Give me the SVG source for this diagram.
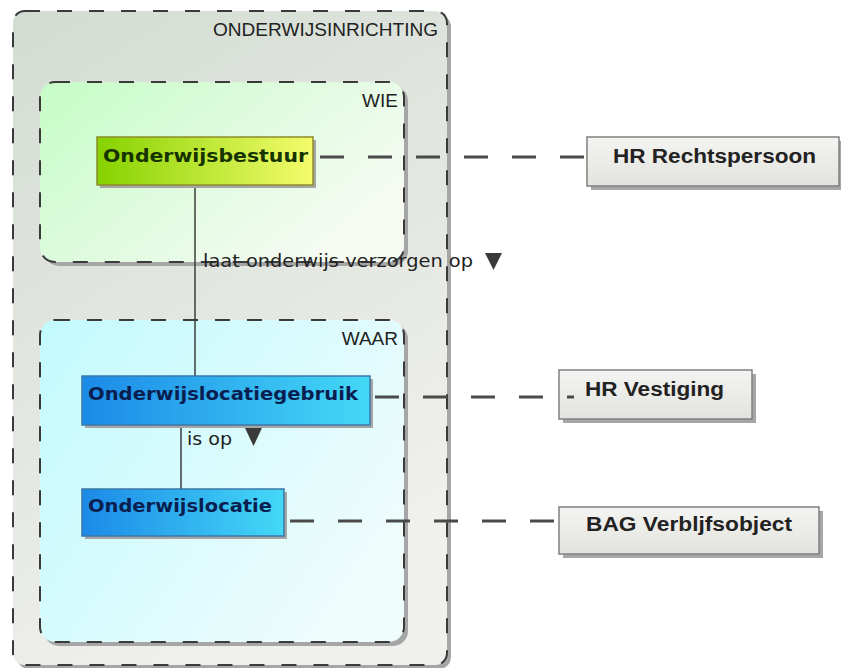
<svg xmlns="http://www.w3.org/2000/svg" width="841" height="668" viewBox="0 0 841 668">
  <defs>
    <linearGradient id="gOuter" x1="0" y1="0" x2="0.4" y2="1">
      <stop offset="0" stop-color="#d3dcd3"/>
      <stop offset="1" stop-color="#f0f0ec"/>
    </linearGradient>
    <linearGradient id="gWie" x1="0" y1="0" x2="1" y2="0.6">
      <stop offset="0" stop-color="#c6fcc6"/>
      <stop offset="1" stop-color="#f6fbf4"/>
    </linearGradient>
    <linearGradient id="gWaar" x1="0" y1="0" x2="1" y2="0.6">
      <stop offset="0" stop-color="#c2fafe"/>
      <stop offset="1" stop-color="#eefcfc"/>
    </linearGradient>
    <linearGradient id="gYellow" x1="0" y1="0" x2="1" y2="0">
      <stop offset="0" stop-color="#86d200"/>
      <stop offset="1" stop-color="#f4fc6c"/>
    </linearGradient>
    <linearGradient id="gBlue" x1="0" y1="0" x2="1" y2="0">
      <stop offset="0" stop-color="#1c8ae8"/>
      <stop offset="1" stop-color="#44d8f6"/>
    </linearGradient>
    <linearGradient id="gGrey" x1="0" y1="0" x2="0" y2="1">
      <stop offset="0" stop-color="#f4f4f2"/>
      <stop offset="1" stop-color="#e2e2de"/>
    </linearGradient>
    <style>
      .cont { stroke: #3a3a3a; stroke-width: 2; stroke-dasharray: 15 17; }
      .shadow { fill: #a6a6a6; }
      .ctitle { font-family: "Liberation Sans", Arial, sans-serif; font-size: 19px; fill: #222; text-anchor: end; }
      .assoc { fill: none; stroke: #3c3c3c; stroke-width: 1.5; }
      .trace { fill: none; stroke: #4a4a4a; stroke-width: 3; stroke-dasharray: 24 24; }
      .lbl { font-family: "DejaVu Sans", Verdana, sans-serif; font-size: 18px; fill: #222; }
      .tri { fill: #3a3a3a; }
      .nlbl { font-family: "DejaVu Sans", Verdana, sans-serif; font-size: 18px; font-weight: bold; }
      .xlbl { font-family: "Liberation Sans", Arial, sans-serif; font-size: 20px; font-weight: bold; fill: #222; }
    </style>
  </defs>

  <rect x="0" y="0" width="841" height="668" fill="#ffffff"/>

  <g id="ONDERWIJSINRICHTING">
    <rect class="shadow" x="17" y="15" width="434" height="654" rx="12"/>
    <rect class="cont" x="13" y="11" width="434" height="654" rx="12" fill="url(#gOuter)"/>
    <text class="ctitle" x="438" y="36" textLength="225" lengthAdjust="spacingAndGlyphs">ONDERWIJSINRICHTING</text>
  </g>

  <g id="WIE">
    <rect class="shadow" x="44" y="86" width="364" height="180" rx="15"/>
    <rect class="cont" x="40" y="82" width="364" height="180" rx="15" fill="url(#gWie)"/>
    <text class="ctitle" x="398" y="107">WIE</text>
  </g>

  <g id="WAAR">
    <rect class="shadow" x="44" y="324" width="364" height="322" rx="15"/>
    <rect class="cont" x="40" y="320" width="364" height="322" rx="15" fill="url(#gWaar)"/>
    <text class="ctitle" x="398" y="345">WAAR</text>
  </g>

  <g id="HR_Rechtspersoon">
    <rect class="shadow" x="591" y="141" width="252" height="49"/>
    <rect x="587" y="137" width="252" height="49" fill="url(#gGrey)" stroke="#808080" stroke-width="1.5"/>
    <text class="xlbl" x="613" y="163" textLength="203" lengthAdjust="spacingAndGlyphs">HR Rechtspersoon</text>
  </g>

  <g id="HR_Vestiging">
    <rect class="shadow" x="563" y="374" width="193" height="49"/>
    <rect x="559" y="370" width="193" height="49" fill="url(#gGrey)" stroke="#808080" stroke-width="1.5"/>
    <text class="xlbl" x="585" y="396" textLength="139" lengthAdjust="spacingAndGlyphs">HR Vestiging</text>
  </g>

  <g id="BAG_Verblijfsobject">
    <rect class="shadow" x="563" y="511" width="260" height="47"/>
    <rect x="559" y="507" width="260" height="47" fill="url(#gGrey)" stroke="#808080" stroke-width="1.5"/>
    <text class="xlbl" x="586" y="531" textLength="206" lengthAdjust="spacingAndGlyphs">BAG Verbljfsobject</text>
  </g>

  <g id="connectors">
    <line class="assoc" x1="195" y1="185" x2="195" y2="376"/>
    <line class="assoc" x1="181" y1="425" x2="181" y2="489"/>
    <line class="trace" x1="313" y1="157" x2="587" y2="157" stroke-dashoffset="41"/>
    <line class="trace" x1="370" y1="397" x2="574" y2="397" stroke-dashoffset="43"/>
    <line class="trace" x1="284" y1="521" x2="559" y2="521" stroke-dashoffset="42"/>
    <text class="lbl" x="203" y="267" textLength="270" lengthAdjust="spacingAndGlyphs">laat onderwijs verzorgen op</text>
    <polygon class="tri" points="485,253 502,253 493.5,270"/>
    <text class="lbl" x="187" y="445" textLength="45" lengthAdjust="spacingAndGlyphs">is op</text>
    <polygon class="tri" points="245,428 262,428 253.5,446"/>
  </g>

  <g id="Onderwijsbestuur">
    <rect class="shadow" x="100" y="140" width="216" height="48"/>
    <rect x="97" y="137" width="216" height="48" fill="url(#gYellow)" stroke="#8c8c2a" stroke-width="1.5"/>
    <text class="nlbl" x="103" y="162" fill="#163300" textLength="205" lengthAdjust="spacingAndGlyphs">Onderwijsbestuur</text>
  </g>

  <g id="Onderwijslocatiegebruik">
    <rect class="shadow" x="85" y="379" width="288" height="49"/>
    <rect x="82" y="376" width="288" height="49" fill="url(#gBlue)" stroke="#3a78a8" stroke-width="1.5"/>
    <text class="nlbl" x="88" y="400" fill="#0a1e50" textLength="270" lengthAdjust="spacingAndGlyphs">Onderwijslocatiegebruik</text>
  </g>

  <g id="Onderwijslocatie">
    <rect class="shadow" x="85" y="492" width="202" height="47"/>
    <rect x="82" y="489" width="202" height="47" fill="url(#gBlue)" stroke="#3a78a8" stroke-width="1.5"/>
    <text class="nlbl" x="88" y="512" fill="#0a1e50" textLength="184" lengthAdjust="spacingAndGlyphs">Onderwijslocatie</text>
  </g>
</svg>
